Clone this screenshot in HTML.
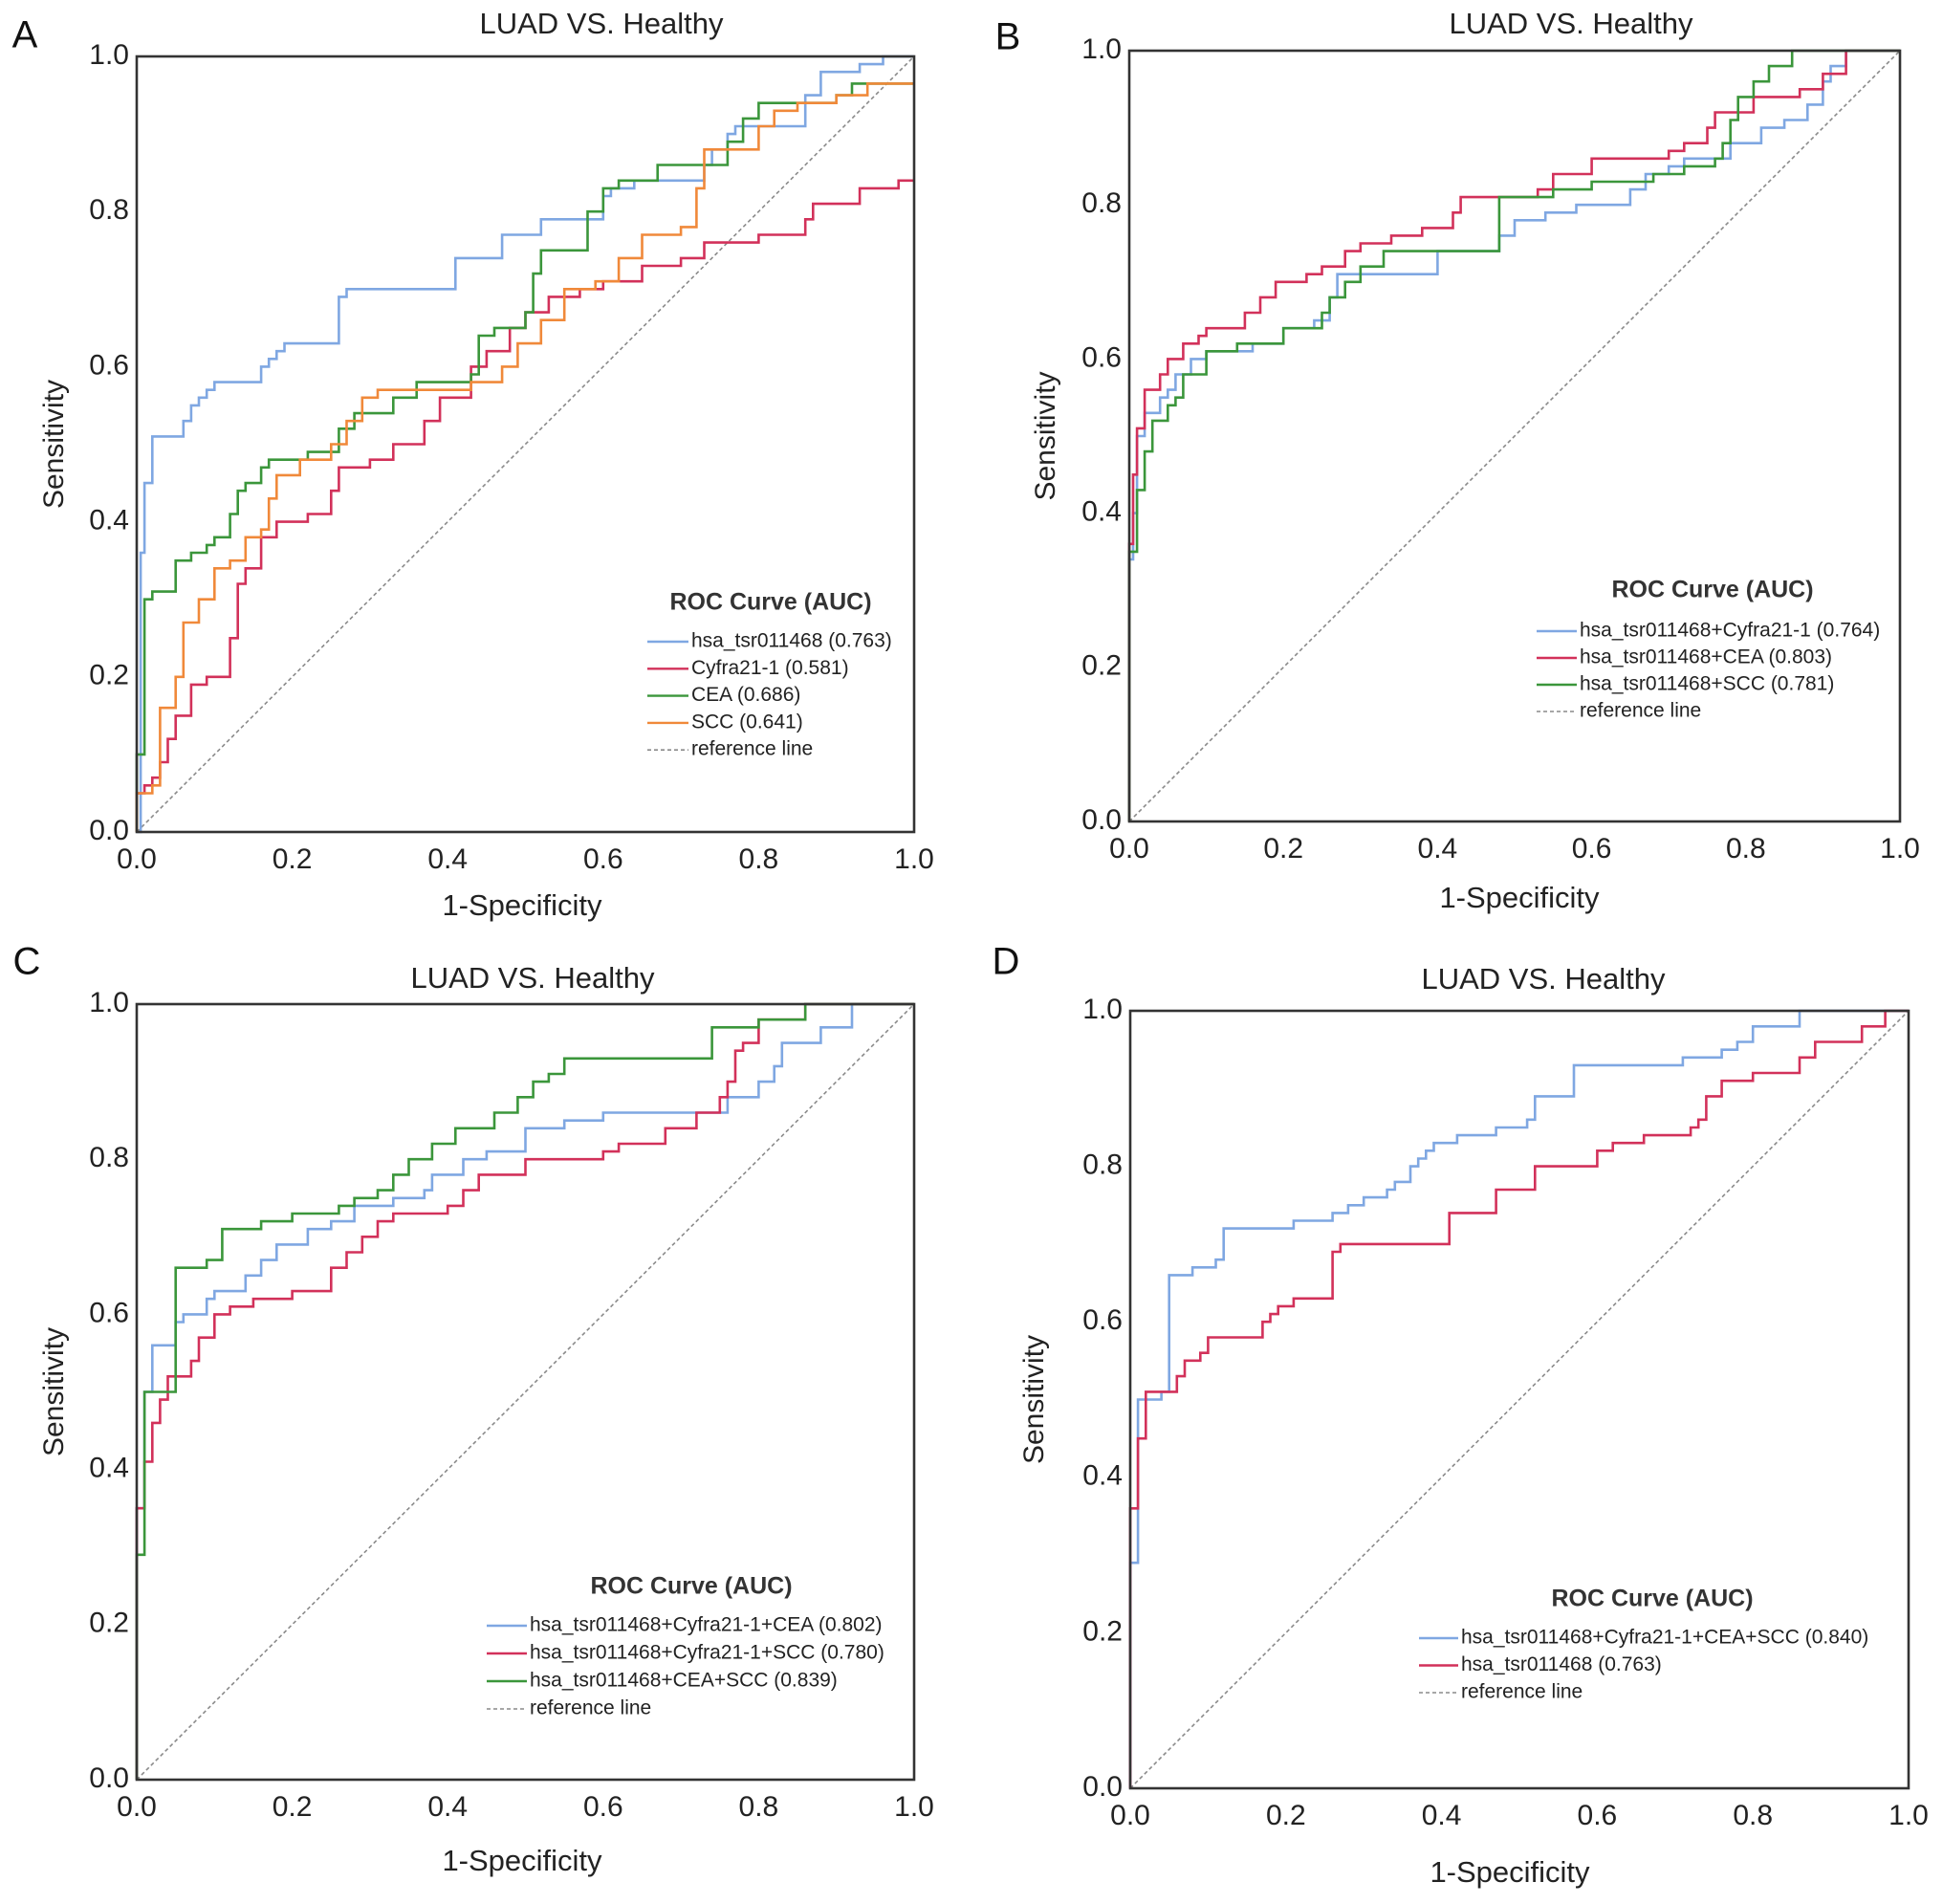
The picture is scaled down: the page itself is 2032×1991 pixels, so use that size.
<!DOCTYPE html>
<html><head><meta charset="utf-8"><style>
html,body{margin:0;padding:0;background:#fff;}
svg{display:block;font-family:"Liberation Sans",Arial,sans-serif;}
</style></head><body>
<svg id="fig" width="2032" height="1991" viewBox="0 0 2032 1991" xmlns="http://www.w3.org/2000/svg"></svg>
<script>
// ---------- data (step curves: at fpr x_i the sensitivity jumps to y_i) ----------
const ticks = [0, 0.2, 0.4, 0.6, 0.8, 1.0];
const tickLabels = ["0.0","0.2","0.4","0.6","0.8","1.0"];

const aBlueX = [0,0.005,0.01,0.02,0.06,0.07,0.08,0.09,0.10,0.16,0.17,0.18,0.19,0.26,0.27,0.41,0.47,0.52,0.60,0.61,0.64,0.73,0.74,0.76,0.77,0.86,0.88,0.93,0.96];
const aBlueY = [0,0.36,0.45,0.51,0.53,0.55,0.56,0.57,0.58,0.60,0.61,0.62,0.63,0.69,0.70,0.74,0.77,0.79,0.82,0.83,0.84,0.86,0.88,0.90,0.91,0.95,0.98,0.99,1.0];
const aRedX = [0,0.01,0.02,0.03,0.04,0.05,0.07,0.09,0.12,0.13,0.14,0.16,0.18,0.22,0.25,0.26,0.30,0.33,0.37,0.39,0.43,0.45,0.48,0.50,0.53,0.57,0.60,0.65,0.70,0.73,0.80,0.86,0.87,0.93,0.98];
const aRedY = [0.05,0.06,0.07,0.09,0.12,0.15,0.19,0.20,0.25,0.32,0.34,0.38,0.40,0.41,0.44,0.47,0.48,0.50,0.53,0.56,0.60,0.62,0.65,0.67,0.69,0.70,0.71,0.73,0.74,0.76,0.77,0.79,0.81,0.83,0.84];
const aGreenX = [0,0.01,0.02,0.05,0.07,0.09,0.10,0.12,0.13,0.14,0.16,0.17,0.22,0.26,0.28,0.33,0.36,0.43,0.44,0.46,0.50,0.51,0.52,0.58,0.60,0.62,0.67,0.76,0.78,0.80,0.90,0.92];
const aGreenY = [0.10,0.30,0.31,0.35,0.36,0.37,0.38,0.41,0.44,0.45,0.47,0.48,0.49,0.52,0.54,0.56,0.58,0.59,0.64,0.65,0.67,0.72,0.75,0.80,0.83,0.84,0.86,0.89,0.92,0.94,0.95,0.965];
const aOrangeX = [0,0.02,0.03,0.05,0.06,0.08,0.10,0.12,0.14,0.16,0.17,0.18,0.21,0.25,0.27,0.29,0.31,0.43,0.47,0.49,0.52,0.55,0.59,0.62,0.65,0.70,0.72,0.73,0.80,0.82,0.85,0.90,0.94];
const aOrangeY = [0.05,0.06,0.16,0.20,0.27,0.30,0.34,0.35,0.38,0.39,0.43,0.46,0.48,0.50,0.53,0.56,0.57,0.58,0.60,0.63,0.66,0.70,0.71,0.74,0.77,0.78,0.83,0.88,0.91,0.93,0.94,0.95,0.965];

const bBlueX = [0,0.005,0.01,0.02,0.04,0.05,0.06,0.08,0.10,0.16,0.20,0.24,0.26,0.27,0.40,0.48,0.50,0.54,0.58,0.65,0.67,0.70,0.72,0.78,0.82,0.85,0.88,0.90,0.91,0.93,0.97];
const bBlueY = [0.34,0.40,0.50,0.53,0.55,0.56,0.58,0.60,0.61,0.62,0.64,0.65,0.68,0.71,0.74,0.76,0.78,0.79,0.80,0.82,0.84,0.85,0.86,0.88,0.90,0.91,0.93,0.96,0.98,1.0,1.0];
const bRedX = [0,0.005,0.01,0.02,0.04,0.05,0.07,0.09,0.10,0.15,0.17,0.19,0.23,0.25,0.28,0.30,0.34,0.38,0.42,0.43,0.53,0.55,0.60,0.70,0.72,0.75,0.76,0.81,0.87,0.90,0.93];
const bRedY = [0.36,0.45,0.51,0.56,0.58,0.60,0.62,0.63,0.64,0.66,0.68,0.70,0.71,0.72,0.74,0.75,0.76,0.77,0.79,0.81,0.82,0.84,0.86,0.87,0.88,0.90,0.92,0.94,0.95,0.97,1.0];
const bGreenX = [0,0.01,0.02,0.03,0.05,0.06,0.07,0.10,0.14,0.20,0.25,0.26,0.28,0.30,0.33,0.48,0.55,0.60,0.68,0.72,0.76,0.77,0.78,0.79,0.81,0.83,0.86];
const bGreenY = [0.35,0.43,0.48,0.52,0.54,0.55,0.58,0.61,0.62,0.64,0.66,0.68,0.70,0.72,0.74,0.81,0.82,0.83,0.84,0.85,0.86,0.88,0.91,0.94,0.96,0.98,1.0];

const cBlueX = [0,0.01,0.02,0.05,0.06,0.09,0.10,0.14,0.16,0.18,0.22,0.25,0.28,0.33,0.37,0.38,0.42,0.45,0.50,0.55,0.60,0.76,0.80,0.82,0.83,0.88,0.92];
const cBlueY = [0.35,0.50,0.56,0.59,0.60,0.62,0.63,0.65,0.67,0.69,0.71,0.72,0.74,0.75,0.76,0.78,0.80,0.81,0.84,0.85,0.86,0.88,0.90,0.92,0.95,0.97,1.0];
const cRedX = [0,0.01,0.02,0.03,0.04,0.07,0.08,0.10,0.12,0.15,0.20,0.25,0.27,0.29,0.31,0.33,0.40,0.42,0.44,0.50,0.60,0.62,0.68,0.72,0.75,0.76,0.77,0.78,0.80,0.86];
const cRedY = [0.35,0.41,0.46,0.49,0.52,0.54,0.57,0.60,0.61,0.62,0.63,0.66,0.68,0.70,0.72,0.73,0.74,0.76,0.78,0.80,0.81,0.82,0.84,0.86,0.88,0.90,0.94,0.95,0.98,1.0];
const cGreenX = [0,0.01,0.05,0.09,0.11,0.16,0.20,0.26,0.28,0.31,0.33,0.35,0.38,0.41,0.46,0.49,0.51,0.53,0.55,0.74,0.80,0.86];
const cGreenY = [0.29,0.50,0.66,0.67,0.71,0.72,0.73,0.74,0.75,0.76,0.78,0.80,0.82,0.84,0.86,0.88,0.90,0.91,0.93,0.97,0.98,1.0];

const dBlueX = [0,0.01,0.04,0.05,0.08,0.11,0.12,0.21,0.26,0.28,0.30,0.33,0.34,0.36,0.37,0.38,0.39,0.42,0.47,0.51,0.52,0.57,0.71,0.76,0.78,0.80,0.86];
const dBlueY = [0.29,0.50,0.51,0.66,0.67,0.68,0.72,0.73,0.74,0.75,0.76,0.77,0.78,0.80,0.81,0.82,0.83,0.84,0.85,0.86,0.89,0.93,0.94,0.95,0.96,0.98,1.0];
const dRedX = [0,0.01,0.02,0.06,0.07,0.09,0.10,0.17,0.18,0.19,0.21,0.26,0.27,0.41,0.47,0.52,0.60,0.62,0.66,0.72,0.73,0.74,0.76,0.80,0.86,0.88,0.94,0.97];
const dRedY = [0.36,0.45,0.51,0.53,0.55,0.56,0.58,0.60,0.61,0.62,0.63,0.69,0.70,0.74,0.77,0.80,0.82,0.83,0.84,0.85,0.86,0.89,0.91,0.92,0.94,0.96,0.98,1.0];

const COLORS = {blue:"#7fa7e2", red:"#d2315a", green:"#3b963b", orange:"#f0893a"};

// ---------- rendering ----------
const NS = "http://www.w3.org/2000/svg";
const svg = document.getElementById("fig");
function el(tag, attrs, parent, text){
  const e = document.createElementNS(NS, tag);
  for (const k in attrs) e.setAttribute(k, attrs[k]);
  if (text !== undefined) e.textContent = text;
  (parent || svg).appendChild(e);
  return e;
}

function panel(cfg){
  const g = el("g", {});
  
  
  const L = cfg.l, R = cfg.r, T = cfg.t, B = cfg.b;
  const sx = v => L + v * (R - L);
  const sy = v => B - v * (B - T);

  const letter = el("text", {x: cfg.lx, y: cfg.ly, "font-size": 40, "text-anchor": "middle", "dominant-baseline": "middle", fill: "#111"}, g, cfg.letter);
  
  
  const title = el("text", {x: cfg.tcx, y: cfg.tcy, "font-size": 31, "text-anchor": "middle", "dominant-baseline": "middle", fill: "#222"}, g, "LUAD VS. Healthy");
  
  

  const ref = el("line", {x1: sx(0), y1: sy(0), x2: sx(1), y2: sy(1), stroke: "#8a8a8a", "stroke-width": 1.6, "stroke-dasharray": "4,3"}, g);
  
  

  cfg.series.forEach(s => {
    let d = "M" + sx(0) + "," + sy(0);
    for (let i = 0; i < s.x.length; i++) {
      d += " H" + sx(s.x[i]).toFixed(1) + " V" + sy(s.y[i]).toFixed(1);
    }
    d += " H" + sx(1);
    const p = el("path", {d: d, fill: "none", stroke: COLORS[s.color], "stroke-width": 2.6, "stroke-linejoin": "miter"}, g);
    
    
  });

  const fr = el("rect", {x: L, y: T, width: R - L, height: B - T, fill: "none", stroke: "#333", "stroke-width": 2.6}, g);
  
  

  ticks.forEach((t, i) => {
    const yl = el("text", {x: L - 8, y: sy(t), "font-size": 30, "text-anchor": "end", "dominant-baseline": "middle", fill: "#222"}, g, tickLabels[i]);
    
    
    const xl = el("text", {x: sx(t), y: B + 30, "font-size": 30, "text-anchor": "middle", "dominant-baseline": "middle", fill: "#222"}, g, tickLabels[i]);
    
    
  });

  const yt = el("text", {x: 0, y: 0, "font-size": 30, "text-anchor": "middle", "dominant-baseline": "middle", fill: "#222", transform: "translate(" + cfg.yx + "," + (T + B) / 2 + ") rotate(-90)"}, g, "Sensitivity");
  
  
  const xt = el("text", {x: cfg.xtx, y: cfg.xty, "font-size": 31, "text-anchor": "middle", "dominant-baseline": "middle", fill: "#222"}, g, "1-Specificity");
  
  

  const lg = el("g", {}, g);
  
  
  const lt = el("text", {x: cfg.leg.tx, y: cfg.leg.ty, "font-size": 25, "font-weight": "bold", "text-anchor": "middle", "dominant-baseline": "middle", fill: "#333"}, lg, "ROC Curve (AUC)");
  
  
  const entries = cfg.series.map(s => ({label: s.label, color: COLORS[s.color], dash: null}));
  entries.push({label: "reference line", color: "#8a8a8a", dash: "4,3"});
  entries.forEach((e, i) => {
    const y = cfg.leg.y0 + i * cfg.leg.dy;
    const ln = el("line", {x1: cfg.leg.lx1, x2: cfg.leg.lx2, y1: y, y2: y, stroke: e.color, "stroke-width": e.dash ? 1.6 : 2.4}, lg);
    if (e.dash) ln.setAttribute("stroke-dasharray", e.dash);
    
    
    const tx = el("text", {x: cfg.leg.lx2 + 3, y: y, "font-size": 21, "dominant-baseline": "middle", fill: "#222"}, lg, e.label);
    
    
  });
}

panel({letter: "A", l: 143, r: 956, t: 59, b: 870, lx: 26, ly: 39, yx: 58,
  tcx: 629, tcy: 27, xtx: 546, xty: 949,
  leg: {tx: 806, ty: 631, y0: 671, dy: 28.3, lx1: 677, lx2: 720},
  series: [
    {key: "hsa", label: "hsa_tsr011468 (0.763)", color: "blue", x: aBlueX, y: aBlueY},
    {key: "cyfra", label: "Cyfra21-1 (0.581)", color: "red", x: aRedX, y: aRedY},
    {key: "cea", label: "CEA (0.686)", color: "green", x: aGreenX, y: aGreenY},
    {key: "scc", label: "SCC (0.641)", color: "orange", x: aOrangeX, y: aOrangeY}
  ]});
panel({letter: "B", l: 1181, r: 1987, t: 53, b: 859, lx: 1054, ly: 41, yx: 1095,
  tcx: 1643, tcy: 27, xtx: 1589, xty: 941,
  leg: {tx: 1791, ty: 618, y0: 660, dy: 28, lx1: 1607, lx2: 1649},
  series: [
    {key: "hsa-cyfra", label: "hsa_tsr011468+Cyfra21-1 (0.764)", color: "blue", x: bBlueX, y: bBlueY},
    {key: "hsa-cea", label: "hsa_tsr011468+CEA (0.803)", color: "red", x: bRedX, y: bRedY},
    {key: "hsa-scc", label: "hsa_tsr011468+SCC (0.781)", color: "green", x: bGreenX, y: bGreenY}
  ]});
panel({letter: "C", l: 143, r: 956, t: 1050, b: 1861, lx: 28, ly: 1008, yx: 58,
  tcx: 557, tcy: 1025, xtx: 546, xty: 1948,
  leg: {tx: 723, ty: 1660, y0: 1700, dy: 29, lx1: 509, lx2: 551},
  series: [
    {key: "hsa-cyfra-cea", label: "hsa_tsr011468+Cyfra21-1+CEA (0.802)", color: "blue", x: cBlueX, y: cBlueY},
    {key: "hsa-cyfra-scc", label: "hsa_tsr011468+Cyfra21-1+SCC (0.780)", color: "red", x: cRedX, y: cRedY},
    {key: "hsa-cea-scc", label: "hsa_tsr011468+CEA+SCC (0.839)", color: "green", x: cGreenX, y: cGreenY}
  ]});
panel({letter: "D", l: 1182, r: 1996, t: 1057, b: 1870, lx: 1052, ly: 1008, yx: 1083,
  tcx: 1614, tcy: 1026, xtx: 1579, xty: 1960,
  leg: {tx: 1728, ty: 1673, y0: 1713, dy: 28.5, lx1: 1484, lx2: 1525},
  series: [
    {key: "all-combined", label: "hsa_tsr011468+Cyfra21-1+CEA+SCC (0.840)", color: "blue", x: dBlueX, y: dBlueY},
    {key: "hsa", label: "hsa_tsr011468 (0.763)", color: "red", x: dRedX, y: dRedY}
  ]});
</script>
</body></html>
